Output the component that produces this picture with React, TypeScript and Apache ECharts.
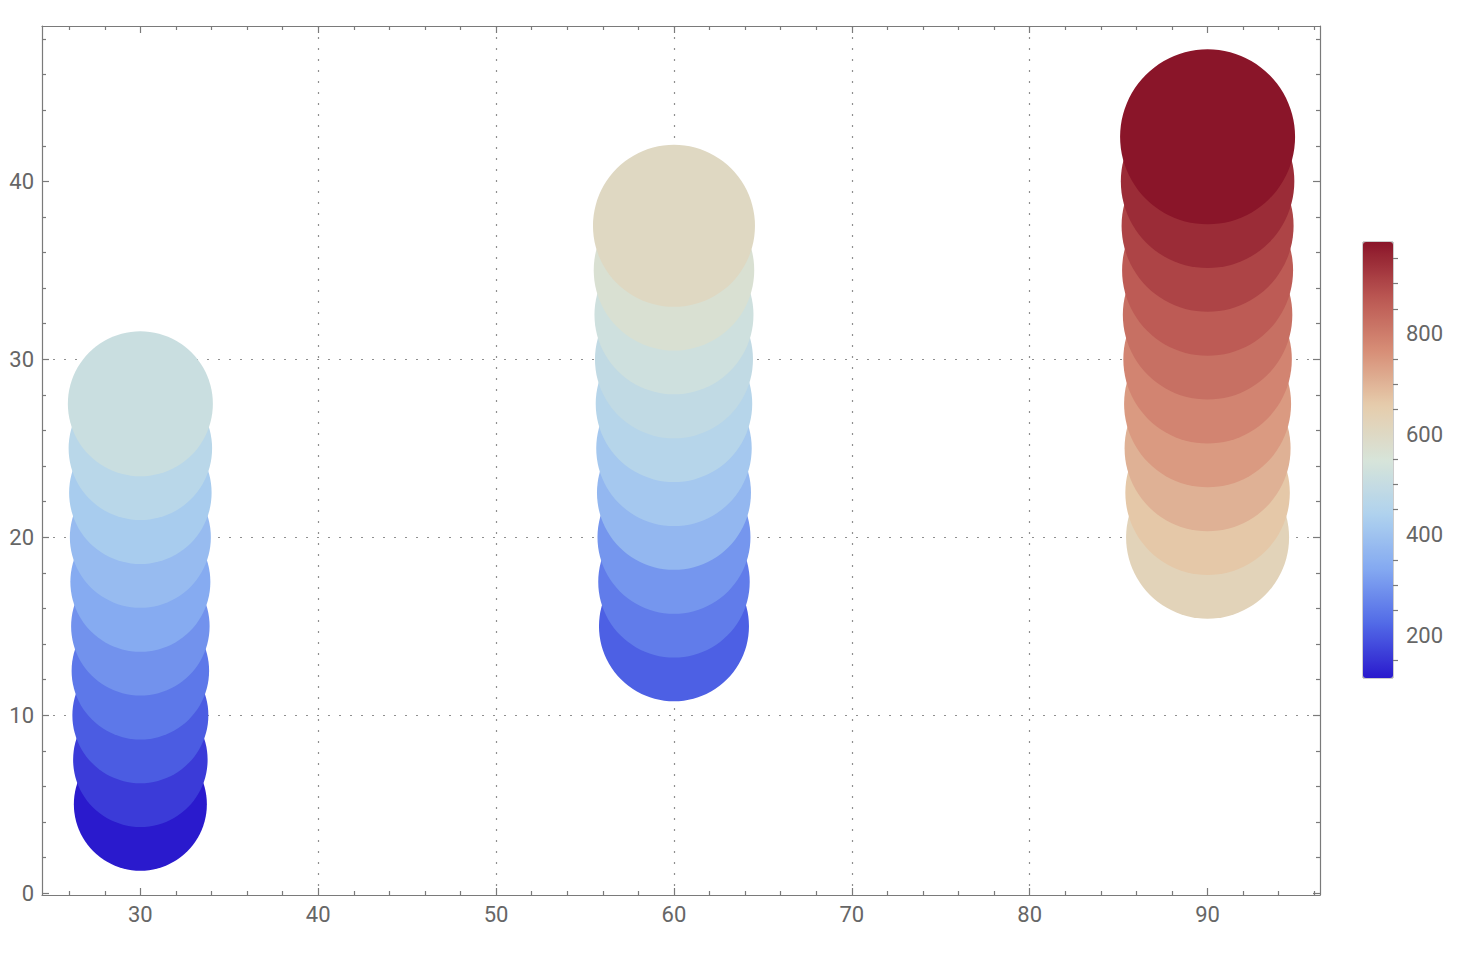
import React, { useEffect, useRef } from "react";
import * as echarts from "echarts";

// ---- data ----
const columnX = [30, 60, 90];
const yCol30 = [5, 7.5, 10, 12.5, 15, 17.5, 20, 22.5, 25, 27.5];
const yCol60 = [15, 17.5, 20, 22.5, 25, 27.5, 30, 32.5, 35, 37.5];
const yCol90 = [20, 22.5, 25, 27.5, 30, 32.5, 35, 37.5, 40, 42.5];
const colorCol30 = [115, 160, 204, 248, 292, 336, 380, 424, 468, 512];
const colorCol60 = [210, 255, 300, 370, 415, 460, 490, 525, 565, 605];
const colorCol90 = [625, 665, 705, 745, 785, 825, 865, 905, 945, 983];
const sizeCol30 = [33, 34.5, 36, 37.5, 38.5, 40, 41, 42.5, 43.5, 45];
const sizeCol60 = [50, 51.5, 53, 54, 55.5, 56.5, 58, 59, 60.5, 62];
const sizeCol90 = [63, 64.5, 66, 67, 68.5, 69.5, 71, 72, 73.5, 75];

// ---- ticks ----
const xMajorTicks = [30, 40, 50, 60, 70, 80, 90];
const xMinorTicks = [26, 28, 32, 34, 36, 38, 42, 44, 46, 48, 52, 54, 56, 58, 62, 64, 66, 68, 72, 74, 76, 78, 82, 84, 86, 88, 92, 94, 96];
const yMajorTicks = [0, 10, 20, 30, 40];
const yMinorTicks = [2, 4, 6, 8, 12, 14, 16, 18, 22, 24, 26, 28, 32, 34, 36, 38, 42, 44, 46, 48];
const colorMajorTicks = [200, 400, 600, 800];
const colorMinorTicks = [150, 250, 300, 350, 450, 500, 550, 650, 700, 750, 850, 900, 950];
const colorRange = [115, 983];
const sizeRange = [33, 75];
const thermometerColors = ["#2a1acd", "#526ae7", "#84a9f1", "#afd2ee", "#d7e4d9", "#e6ccac", "#d78e77", "#ba5652", "#8a1529"];

const FRAME = "#7a7a7a";
const LABEL = "#666666";
const FONT = "Roboto";
const FONT_SIZE = 22;

const X_MIN = 24.47;
const X_MAX = 96.32;
const Y_MIN = -0.1;
const Y_MAX = 48.73;

function buildData() {
  const cols = [
    [columnX[0], yCol30, colorCol30, sizeCol30],
    [columnX[1], yCol60, colorCol60, sizeCol60],
    [columnX[2], yCol90, colorCol90, sizeCol90],
  ] as [number, number[], number[], number[]][];
  const out: number[][] = [];
  cols.forEach(([x, ys, cs, ss]) => {
    ys.forEach((y, i) => out.push([x, y, cs[i], ss[i]]));
  });
  return out;
}

function mainAxis(kind: "x" | "y", position: string, ticks: number[], major: boolean, labels: boolean, lineShow: boolean) {
  const isX = kind === "x";
  return {
    type: "value",
    gridIndex: 0,
    position,
    min: isX ? X_MIN : Y_MIN,
    max: isX ? X_MAX : Y_MAX,
    axisLine: { show: lineShow, onZero: false, lineStyle: { color: FRAME, width: 1.2 } },
    axisTick: {
      show: true,
      inside: true,
      length: major ? 7 : 4,
      customValues: ticks,
      lineStyle: { color: FRAME, width: 1.2 },
    },
    axisLabel: {
      show: labels,
      customValues: ticks,
      color: LABEL,
      fontFamily: FONT,
      fontSize: FONT_SIZE,
      margin: 8,
    },
    splitLine: {
      show: labels,
      showMinLine: false,
      showMaxLine: false,
      lineStyle: { type: [2, 9], color: "#8f8f8f", width: 1.2 },
    },
    minorTick: { show: false },
    minorSplitLine: { show: false },
  };
}

export default function App() {
  const ref = useRef<HTMLDivElement>(null);
  useEffect(() => {
    if (!ref.current) return;
    const chart = echarts.init(ref.current, undefined, { renderer: "svg" });
    const option: any = {
      animation: false,
      backgroundColor: "#ffffff",
      grid: [
        { left: 42, top: 26, width: 1278, height: 869, show: false },
        {
          left: 1363,
          top: 242,
          width: 30,
          height: 436,
          show: true,
          borderColor: "#9a9a9a",
          borderWidth: 1,
          backgroundColor: "transparent",
        },
      ],
      xAxis: [
        mainAxis("x", "bottom", xMajorTicks, true, true, true),
        mainAxis("x", "bottom", xMinorTicks, false, false, false),
        mainAxis("x", "top", xMajorTicks, true, false, true),
        mainAxis("x", "top", xMinorTicks, false, false, false),
        { type: "value", gridIndex: 1, show: false, min: 0, max: 1 },
      ],
      yAxis: [
        mainAxis("y", "left", yMajorTicks, true, true, true),
        mainAxis("y", "left", yMinorTicks, false, false, false),
        mainAxis("y", "right", yMajorTicks, true, false, true),
        mainAxis("y", "right", yMinorTicks, false, false, false),
        {
          type: "value",
          gridIndex: 1,
          position: "right",
          min: colorRange[0],
          max: colorRange[1],
          axisLine: { show: false },
          axisTick: { show: true, inside: false, length: 9, customValues: colorMajorTicks, lineStyle: { color: FRAME, width: 1.2 } },
          axisLabel: { show: true, customValues: colorMajorTicks, color: LABEL, fontFamily: FONT, fontSize: FONT_SIZE, margin: 13 },
          splitLine: { show: false },
        },
        {
          type: "value",
          gridIndex: 1,
          position: "right",
          min: colorRange[0],
          max: colorRange[1],
          axisLine: { show: false },
          axisTick: { show: true, inside: false, length: 5, customValues: colorMinorTicks, lineStyle: { color: FRAME, width: 1.2 } },
          axisLabel: { show: false },
          splitLine: { show: false },
        },
      ],
      visualMap: [
        {
          type: "continuous",
          seriesIndex: 0,
          dimension: 2,
          min: colorRange[0],
          max: colorRange[1],
          inRange: { color: thermometerColors },
          calculable: false,
          hoverLink: false,
          show: true,
          left: 1363,
          top: 242,
          itemWidth: 30,
          itemHeight: 436,
          padding: 0,
          z: 1,
        },
        {
          type: "continuous",
          seriesIndex: 0,
          dimension: 3,
          min: sizeRange[0],
          max: sizeRange[1],
          inRange: { symbolSize: [133, 175] },
          show: false,
        },
      ],
      series: [
        {
          type: "scatter",
          xAxisIndex: 0,
          yAxisIndex: 0,
          symbol: "circle",
          silent: true,
          data: buildData(),
          itemStyle: { opacity: 1 },
        },
      ],
    };
    chart.setOption(option);
    return () => chart.dispose();
  }, []);
  return (
    <div
      ref={ref}
      style={{ position: "fixed", left: 0, top: 0, width: 1475, height: 975, background: "#fff" }}
    />
  );
}
